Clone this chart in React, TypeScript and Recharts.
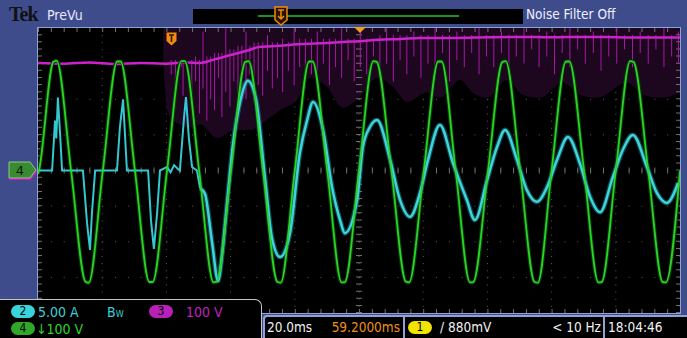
import React from 'react';
import { ComposedChart, Line, Area, XAxis, YAxis, CartesianGrid, ReferenceLine } from 'recharts';

// horizontal: 20 ms/div, 10 divs; vertical: divisions, 8 divs
const timeTicks = [0, 20, 40, 60, 80, 100, 120, 140, 160, 180, 200];
const divTicks = [-4, -3, -2, -1, 0, 1, 2, 3, 4];

// ch4 (green) voltage, [ms, div]
const ch4Wave: [number, number][] = [
  [0, -0.1],
  [0.3, 0], [4.8, 3.05], [5.8, 3.08], [10.3, 0], [14.8, -3.12], [15.8, -3.15],
  [20.2, 0], [24.7, 3.06], [25.7, 3.06], [30.2, 0], [34.7, -3.13], [35.7, -3.13],
  [40.2, 0], [44.7, 3.07], [45.7, 3.07], [50.2, 0], [54.7, -3.14], [55.7, -3.12],
  [60.1, 0], [64.6, 3.05], [65.6, 3.07], [70.1, 0], [74.6, -3.13], [75.6, -3.15],
  [80.0, 0], [84.5, 3.06], [85.5, 3.06], [90.1, 0], [94.6, -3.14], [95.6, -3.13],
  [100.0, 0], [104.5, 3.07], [105.5, 3.05], [110.1, 0], [114.6, -3.12], [115.6, -3.14],
  [120.2, 0], [124.7, 3.06], [125.7, 3.06], [130.1, 0], [134.6, -3.14], [135.6, -3.13],
  [140.2, 0], [144.7, 3.05], [145.7, 3.07], [150.2, 0], [154.7, -3.13], [155.7, -3.15],
  [160.0, 0], [164.5, 3.06], [165.5, 3.06], [170.1, 0], [174.6, -3.14], [175.6, -3.13],
  [180.0, 0], [184.5, 3.07], [185.5, 3.05], [190.1, 0], [194.6, -3.13], [195.6, -3.14],
  [200, 0],
];

// ch2 (cyan) current, pulses before the filter kicks in
const ch2Pulses: [number, number][] = [
  [0, 0], [4.4, 0], [5.3, 1.4], [5.7, 0.9], [6.2, 2.05], [6.9, 1.0], [7.5, 0],
  [14.0, 0], [15.3, -1.5], [16.2, -2.23], [16.8, -1.2], [17.8, 0],
  [24.6, 0], [25.5, 1.2], [26.5, 2.0], [27.1, 1.0], [27.7, 0],
  [34.3, 0], [35.2, -1.4], [36.1, -2.2], [37.1, -1.2], [38.0, 0],
  [40.2, 0.1], [41.3, -0.05], [42.4, 0.15], [43.5, 0.05], [44.2, 0],
  [45.5, 1.5], [46.1, 2.06], [47.0, 0.9], [48.0, 0.1], [49.5, 0], [50.5, -0.5],
];

// ch2 (cyan) after, near-sinusoidal and decaying
const ch2Sine: [number, number][] = [
  [50.5, -0.5], [52.0, -0.65], [54.2, -2.0], [56.1, -3.1], [57.3, -2.4], [58.6, -1.2],
  [60.7, 0.7], [62.9, 1.9], [65.4, 2.52], [67.9, 2.0], [70.7, -0.2], [72.9, -1.9], [75.4, -2.43],
  [78.5, -1.76], [81.6, 0.5], [83.8, 1.4], [85.7, 1.92], [88.8, 1.14], [91.6, -0.46], [94.1, -1.39], [95.6, -1.76],
  [99.4, -0.83], [101.2, 0.66], [103.4, 1.22], [105.6, 1.42], [109.7, 0.3], [112.8, -0.83], [115.9, -1.3],
  [119.0, -0.63], [121.5, 0.3], [125.2, 1.28], [129.3, 0.2], [133.6, -0.83], [136.1, -1.39],
  [139.9, -0.27], [143.0, 0.66], [145.5, 1.14], [149.2, 0.3], [152.3, -0.55], [155.4, -0.88],
  [158.6, -0.46], [161.7, 0.3], [165.1, 0.94], [168.8, 0.2], [172.0, -0.74], [175.1, -1.17],
  [179.1, -0.18], [182.2, 0.58], [185.3, 1.0], [189.7, 0.1], [192.8, -0.63], [195.9, -0.91], [199.4, -0.35],
];

// ch3 (magenta) mean level
const ch3Base: [number, number][] = [
  [0, 3.02], [8, 3.0], [16, 3.03], [24, 2.99], [32, 3.02], [40, 3.0], [46, 3.03], [50.5, 3.02],
  [55, 3.12], [60, 3.24], [65, 3.36], [69, 3.47], [75, 3.5], [82, 3.55], [90, 3.58], [95, 3.61],
  [100, 3.63], [106, 3.67], [113, 3.69], [119, 3.72], [130, 3.72], [140, 3.74], [150, 3.75],
  [160, 3.74], [170, 3.75], [180, 3.74], [190, 3.73], [200, 3.73],
];

// ch3 noise spikes, [ms, low, high]
const ch3Spikes: [number, number, number][] = [
  [41.5, 2.7, 3.1], [42.8, 2.4, 3.1], [44.6, 2.9, 3.1], [45.2, 2.1, 3.1], [47.9, 1.9, 3.1],
  [49.1, 2.5, 3.2], [50.3, 1.6, 3.1], [51.4, 2.3, 3.9], [52.6, 1.4, 3.2], [53.8, 2.0, 3.2],
  [55.0, 1.7, 3.3], [56.2, 2.6, 3.3], [57.3, 1.5, 3.3], [58.5, 2.2, 4.0], [59.8, 1.8, 3.4],
  [61.0, 2.5, 3.4], [62.3, 1.6, 3.5], [63.5, 2.3, 3.5], [64.8, 2.0, 3.9], [66.0, 2.7, 3.5],
  [67.3, 1.9, 3.6], [68.6, 2.4, 3.6], [70.0, 2.1, 3.6], [71.5, 2.8, 3.8], [73.0, 2.3, 3.6],
  [74.6, 2.6, 3.6], [76.2, 2.2, 3.7], [78.0, 2.8, 3.6], [79.8, 2.4, 4.0], [81.5, 2.9, 3.7],
  [83.3, 2.3, 3.7], [85.2, 2.7, 3.7], [87.0, 2.5, 3.9], [88.9, 3.0, 3.7], [90.8, 2.4, 3.7],
  [92.7, 2.9, 3.7], [94.6, 2.6, 4.0], [96.6, 3.1, 3.7], [98.5, 2.5, 3.7], [100.4, 2.9, 3.9],
  [102.4, 2.7, 3.7], [104.5, 3.2, 3.7], [106.5, 2.6, 3.8], [108.6, 3.0, 4.0], [110.7, 2.5, 3.8],
  [112.8, 3.1, 3.8], [114.9, 2.7, 3.8], [117.1, 3.2, 3.9], [119.3, 2.6, 3.8], [121.5, 3.0, 3.8],
  [123.7, 2.8, 4.0], [126.0, 3.3, 3.8], [128.2, 2.5, 3.8], [130.5, 3.1, 3.9], [132.8, 2.9, 3.8],
  [135.1, 3.3, 3.8], [137.4, 2.7, 4.0], [139.7, 3.2, 3.8], [142.0, 2.9, 3.8], [144.4, 3.3, 3.9],
  [146.7, 2.8, 3.8], [149.0, 3.2, 3.8], [151.4, 3.0, 4.0], [153.8, 3.4, 3.8], [156.1, 2.9, 3.8],
  [158.5, 3.2, 3.9], [160.9, 2.7, 3.8], [163.3, 3.3, 3.8], [165.7, 2.9, 4.0], [168.1, 3.4, 3.8],
  [170.5, 3.0, 3.8], [173.0, 3.3, 3.9], [175.4, 2.8, 3.8], [177.8, 3.2, 3.8], [180.3, 3.0, 4.0],
  [182.7, 3.4, 3.8], [185.2, 2.9, 3.8], [187.6, 3.3, 3.9], [190.1, 3.0, 3.8], [192.5, 3.4, 3.8],
  [195.0, 2.9, 4.0], [197.4, 3.2, 3.8], [199.5, 3.0, 3.9],
];

// ch3 persistence envelope, lower edge [ms, div]
const ch3Envelope: [number, number][] = [
  [39, 3.0], [40.5, 1.6], [44, 1.3], [48, 1.2], [50.5, 1.3], [55.8, 0.91], [61.4, 1.14], [66, 1.14],
  [71.3, 1.42], [75.4, 1.7], [80.7, 1.98], [84.7, 2.6], [90, 2.35], [95, 1.76], [100.3, 2.06],
  [105.6, 2.6], [110.6, 2.35], [115, 1.92], [121.2, 2.2], [125.2, 2.04], [131.5, 2.54], [135.5, 2.18],
  [139.9, 2.04], [146.1, 2.54], [151.1, 2.12], [156.4, 2.04], [163.5, 2.46], [168.8, 2.12],
  [174.1, 2.04], [183.5, 2.46], [188.5, 2.12], [193.8, 2.04], [200, 2.18],
];

const pts = (rows: [number, number][]) => rows.map(([t, v]) => ({ t, v }));
const spikePts = ch3Spikes.flatMap(([t, lo, hi]) => [
  { t, v: lo },
  { t, v: hi },
  { t, v: null },
]);
const envPts = ch3Envelope.map(([t, lo]) => ({ t, range: [lo, 4] }));

const narrow = '"Liberation Sans Narrow", "DejaVu Sans Condensed", "Roboto Condensed", sans-serif';
const frameBlue = '#3e4c8c';
const edgeBlue = '#8ea3d4';

const Pill = ({ x, y, bg, label }: { x: number; y: number; bg: string; label: string }) => (
  <div
    style={{
      position: 'absolute', left: x, top: y, width: 24, height: 13, borderRadius: 7,
      background: bg, color: '#000', fontSize: 12, lineHeight: '13px', textAlign: 'center',
      fontFamily: narrow,
    }}
  >
    {label}
  </div>
);

const Txt = ({ x, y, color, size = 14, align = 'left', children }: any) => (
  <div
    style={{
      position: 'absolute', top: y, color, fontSize: size, fontFamily: narrow,
      whiteSpace: 'nowrap', lineHeight: 1,
      ...(align === 'right' ? { right: 687 - x } : { left: x }),
    }}
  >
    {children}
  </div>
);

const App: React.FC = () => {
  return (
    <div
      style={{
        position: 'absolute', left: 0, top: 0, width: 687, height: 338,
        background: frameBlue, overflow: 'hidden',
      }}
    >
      {/* top bar */}
      <div style={{ position: 'absolute', left: 9, top: 3, fontFamily: '"Liberation Serif", serif', fontWeight: 'bold', fontSize: 20, color: '#111', letterSpacing: -1 }}>
        Tek
      </div>
      <Txt x={47} y={8} color="#e6e8ff" size={14}>PreVu</Txt>
      <div style={{ position: 'absolute', left: 193, top: 9, width: 330, height: 15, background: '#000' }} />
      <div style={{ position: 'absolute', left: 258, top: 15, width: 201, height: 2, background: '#1f8f1f' }} />
      <svg style={{ position: 'absolute', left: 274, top: 6 }} width={14} height={20}>
        <path d="M1 1 H13 V14 L7 19 L1 14 Z" fill="#2a1400" stroke="#f08a10" strokeWidth={1.5} />
        <path d="M4 4 H10 M7 4 V13 M4 10 L7 13 L10 10" stroke="#f08a10" strokeWidth={1.5} fill="none" />
      </svg>
      <Txt x={526} y={8} color="#eef0ff" size={13.5}>Noise Filter Off</Txt>

      {/* plot frame */}
      <div style={{ position: 'absolute', left: 37, top: 27, width: 644, height: 287, background: '#000', boxSizing: 'border-box', border: `1px solid ${edgeBlue}` }} />
      <div style={{ position: 'absolute', left: 38, top: 28 }}>
        <ComposedChart width={642} height={285} margin={{ top: 0, right: 0, bottom: 0, left: 0 }}>
          <XAxis type="number" dataKey="t" domain={[0, 200]} ticks={timeTicks} hide allowDataOverflow />
          <YAxis type="number" domain={[-4, 4]} ticks={divTicks} hide allowDataOverflow />
          <Area
            data={envPts}
            dataKey="range"
            type="monotone"
            stroke="none"
            fill="#1f0821"
            fillOpacity={0.9}
            isAnimationActive={false}
          />
          <CartesianGrid horizontal={false} stroke="#5c5c5c" strokeDasharray="1 6.125" />
          <CartesianGrid vertical={false} stroke="#5c5c5c" strokeDasharray="1 11.84" />
          <ReferenceLine x={100} stroke="#707070" strokeWidth={6} strokeDasharray="1 6.125" />
          <ReferenceLine y={0} stroke="#707070" strokeWidth={6} strokeDasharray="1 11.84" />
          <ReferenceLine x={0} stroke="#707070" strokeWidth={8} strokeDasharray="1 6.125" />
          <ReferenceLine x={200} stroke="#707070" strokeWidth={8} strokeDasharray="1 6.125" />
          <ReferenceLine y={4} stroke="#707070" strokeWidth={8} strokeDasharray="1 11.84" />
          <ReferenceLine y={-4} stroke="#707070" strokeWidth={8} strokeDasharray="1 11.84" />
          <Line data={spikePts} dataKey="v" type="linear" stroke="#a818a8" strokeWidth={1} dot={false} isAnimationActive={false} />
          <Line data={pts(ch3Base)} dataKey="v" type="monotone" stroke="#cc22cc" strokeWidth={2.5} dot={false} isAnimationActive={false} />
          <Line data={pts(ch4Wave)} dataKey="v" type="monotone" stroke="#0a360c" strokeWidth={4} dot={false} isAnimationActive={false} />
          <Line data={pts(ch2Sine)} dataKey="v" type="monotone" stroke="#1f8e96" strokeWidth={5} strokeOpacity={0.5} dot={false} isAnimationActive={false} />
          <Line data={pts(ch2Pulses)} dataKey="v" type="linear" stroke="#33c8d0" strokeWidth={2} dot={false} isAnimationActive={false} />
          <Line data={pts(ch2Sine)} dataKey="v" type="monotone" stroke="#3fd4dc" strokeWidth={2.5} dot={false} isAnimationActive={false} />
          <Line data={pts(ch4Wave)} dataKey="v" type="monotone" stroke="#2bd424" strokeWidth={1.8} dot={false} isAnimationActive={false} />
        </ComposedChart>
      </div>

      {/* trigger markers */}
      <svg style={{ position: 'absolute', left: 166, top: 32 }} width={11} height={14}>
        <path d="M0.5 0.5 H10.5 V9 L5.5 13.5 L0.5 9 Z" fill="#f08a10" />
        <path d="M3 3 H8 M5.5 3 V10" stroke="#3a1a00" strokeWidth={1.6} />
      </svg>
      <svg style={{ position: 'absolute', left: 354, top: 27 }} width={12} height={7}>
        <path d="M0 0 H12 L6 6 Z" fill="#f0a020" />
      </svg>

      {/* channel 4 ground marker */}
      <svg style={{ position: 'absolute', left: 8, top: 161 }} width={30} height={22}>
        <path d="M1 3 H23 L29 11 L23 19 H1 Z" fill="#c020c0" />
        <path d="M1 1 H22 L28 9 L22 17 H1 Z" fill="#3a8a32" stroke="#9fe08f" strokeWidth={0.8} />
        <text x={12} y={14} fontSize={13} fill="#0a1a0a" textAnchor="middle" fontFamily="DejaVu Sans">4</text>
      </svg>

      {/* channel readout box */}
      <div
        style={{
          position: 'absolute', left: -2, top: 299, width: 264, height: 45, background: '#000',
          borderTop: '1.5px solid #c4c4c4', borderRight: '1.5px solid #c4c4c4', borderTopRightRadius: 7,
          boxSizing: 'border-box',
        }}
      />
      <Pill x={11} y={305} bg="#38d4dc" label="2" />
      <Txt x={38} y={305} color="#38d0d8">5.00 A</Txt>
      <Txt x={107} y={305} color="#38d0d8">B<span style={{ fontSize: 9 }}>W</span></Txt>
      <Pill x={149} y={305} bg="#b820b8" label="3" />
      <Txt x={186} y={305} color="#c020c0">100 V</Txt>
      <Pill x={11} y={322} bg="#2fa82a" label="4" />
      <Txt x={36} y={322} color="#2fd42a">↓100 V</Txt>

      {/* timebase / trigger readout */}
      <div
        style={{
          position: 'absolute', left: 263, top: 315, width: 430, height: 30, background: '#000',
          borderTop: `2px solid ${edgeBlue}`, borderLeft: `2px solid ${edgeBlue}`, borderTopLeftRadius: 4,
          boxSizing: 'border-box',
        }}
      />
      <div style={{ position: 'absolute', left: 403, top: 315, width: 2, height: 23, background: edgeBlue }} />
      <div style={{ position: 'absolute', left: 603, top: 315, width: 2, height: 23, background: edgeBlue }} />
      <Txt x={267} y={321} color="#f2f2f2" size={13.5}>20.0ms</Txt>
      <Txt x={400} y={321} color="#f0901c" size={13.5} align="right">59.2000ms</Txt>
      <Pill x={408} y={321} bg="#f0e400" label="1" />
      <Txt x={440} y={321} color="#f2f2f2" size={13.5}>/ 880mV</Txt>
      <Txt x={601} y={321} color="#f2f2f2" size={13.5} align="right">&lt; 10 Hz</Txt>
      <Txt x={608} y={321} color="#f2f2f2" size={13.5}>18:04:46</Txt>
    </div>
  );
};

export default App;
